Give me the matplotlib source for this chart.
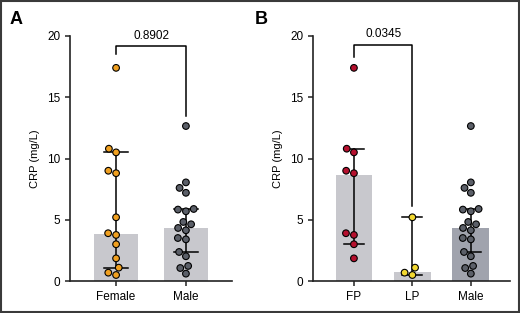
import matplotlib
matplotlib.use("Agg")
import matplotlib.pyplot as plt
import seaborn as sns
import pandas as pd
from matplotlib.patches import Rectangle

plt.rcParams['font.family'] = ['Liberation Sans', 'DejaVu Sans']

# ---- data ----
female = [17.4, 10.8, 10.5, 9.0, 8.8, 5.2, 3.9, 3.76, 3.0, 1.85, 1.09, 0.68, 0.49]
male = [12.65, 8.05, 7.6, 7.2, 5.88, 5.83, 5.69, 4.82, 4.63, 4.33, 4.14, 3.51, 3.4,
        2.37, 2.02, 1.23, 1.06, 0.6]
fp = [17.4, 10.8, 10.5, 9.0, 8.8, 3.9, 3.76, 3.0, 1.85]
lp = [5.2, 1.09, 0.68, 0.49]

cats_a = ["Female", "Male"]
bar_a = [3.8, 4.35]
lo_a = [1.05, 2.35]
hi_a = [10.5, 5.9]
pval_a = "0.8902"

cats_b = ["FP", "LP", "Male"]
bar_b = [8.65, 0.7, 4.35]
lo_b = [3.0, 0.45, 2.35]
hi_b = [10.8, 5.2, 5.9]
pval_b = "0.0345"

col_female = "#f0a020"
col_male = "#5b5f68"
col_fp = "#b5102e"
col_lp = "#f2d830"
bar_light = "#c8c8cd"
bar_dark = "#a0a3ad"

fig = plt.figure(figsize=(5.2, 3.13), dpi=100)
fig.patches.append(Rectangle((0.002, 0.003), 0.996, 0.994, transform=fig.transFigure,
                             fill=False, edgecolor="#3a3a3a", linewidth=1.5))

axA = fig.add_axes([70/520, 32/313, 162/520, 245/313])
axB = fig.add_axes([313/520, 32/313, 197/520, 245/313])


def panel(ax, cats, groups, colors, bars, barcols, lo, hi, xlim, bracket, pval):
    xs = list(range(len(cats)))
    ax.bar(xs, bars, width=0.63, color=barcols, zorder=1)
    for x, l, h in zip(xs, lo, hi):
        ax.plot([x, x], [l, h], color="black", lw=1.1, zorder=2)
        for yv in (l, h):
            ax.plot([x - 0.17, x + 0.17], [yv, yv], color="black", lw=1.1, zorder=2)
    df = pd.DataFrame({
        "g": sum([[c] * len(v) for c, v in zip(cats, groups)], []),
        "v": sum([list(v) for v in groups], []),
    })
    sns.swarmplot(data=df, x="g", y="v", order=cats, hue="g", hue_order=cats,
                  palette=colors, size=4.8, edgecolor="black", linewidth=0.8,
                  legend=False, ax=ax, zorder=3)
    ax.set_xlim(*xlim)
    ax.set_ylim(0, 20)
    ax.set_yticks([0, 5, 10, 15, 20])
    ax.set_xticks(xs)
    ax.set_xticklabels(cats)
    ax.set_xlabel("")
    ax.set_ylabel("CRP (mg/L)", fontsize=8, labelpad=5)
    for s in ("top", "right"):
        ax.spines[s].set_visible(False)
    for s in ("left", "bottom"):
        ax.spines[s].set_linewidth(1.2)
        ax.spines[s].set_color("#222222")
    ax.tick_params(axis="both", labelsize=8.5, width=1.1, length=3.5, color="#222222")
    ax.tick_params(axis="x", pad=4)
    (x1, y1), (x2, y2), ytop = bracket
    ax.plot([x1, x1, x2, x2], [y1, ytop, ytop, y2], color="black", lw=1.1,
            clip_on=False, zorder=4)
    ax.text((x1 + x2) / 2, ytop + 0.35, pval, ha="center", va="bottom", fontsize=8.5)


panel(axA, cats_a, [female, male], [col_female, col_male], bar_a,
      [bar_light, bar_light], lo_a, hi_a, (-0.66, 1.66),
      ((0, 18.5), (1, 13.5), 19.2), pval_a)
panel(axB, cats_b, [fp, lp, male], [col_fp, col_lp, col_male], bar_b,
      [bar_light, bar_light, bar_dark], lo_b, hi_b, (-0.70, 2.67),
      ((0, 18.3), (1, 6.1), 19.3), pval_b)

fig.text(10/520, 1 - 20/313, "A", fontsize=13, fontweight="bold", va="center", ha="left")
fig.text(255/520, 1 - 20/313, "B", fontsize=13, fontweight="bold", va="center", ha="left")

fig.savefig("out.png", dpi=100)
